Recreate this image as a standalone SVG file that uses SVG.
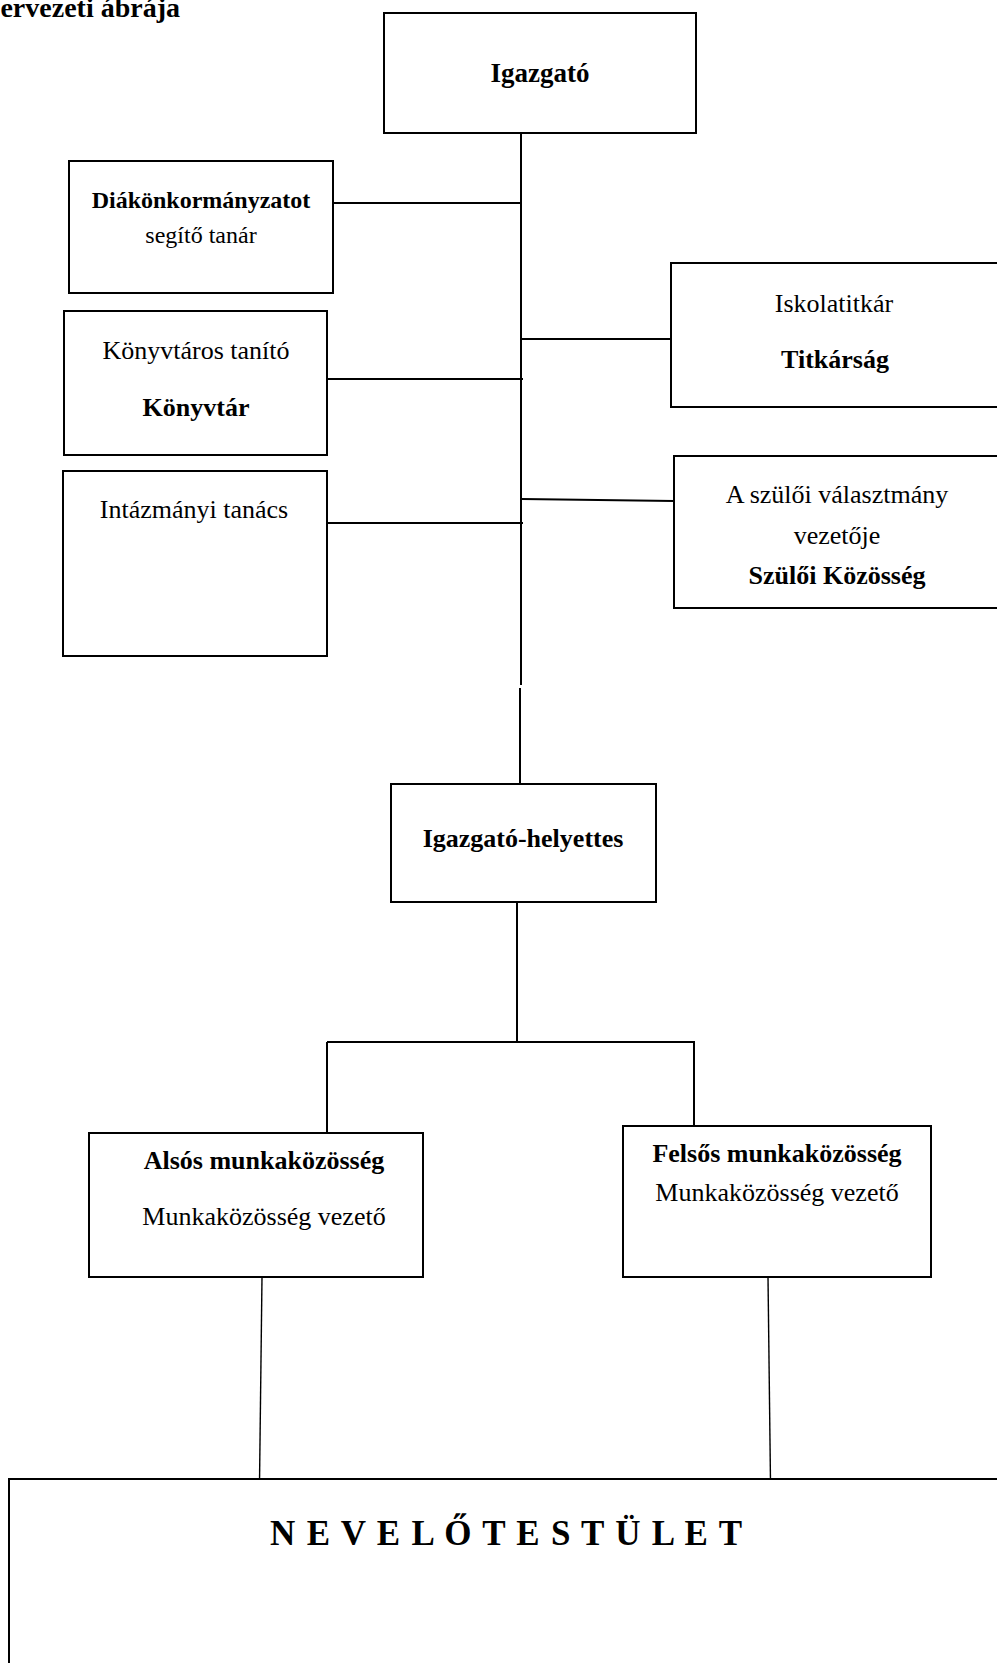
<svg xmlns="http://www.w3.org/2000/svg" width="997" height="1663" viewBox="0 0 997 1663">
<style>
.box{fill:#fff;stroke:#000;stroke-width:2}
.ln{stroke:#000;stroke-width:2;fill:none}
.thin{stroke:#000;stroke-width:1.4;fill:none}
text{font-family:"Liberation Serif","Times New Roman",serif;fill:#000;text-anchor:middle}
.b{font-weight:bold}
.r{font-size:26px}
.bb{font-size:26px;font-weight:bold}
</style>
<rect x="0" y="0" width="997" height="1663" fill="#fff"/>
<text x="180" y="17" class="b" style="font-size:28px;text-anchor:end">ervezeti ábrája</text>
<g id="connectors">
<line class="ln" x1="521" y1="133" x2="521" y2="685"/>
<line class="ln" x1="520" y1="688" x2="520" y2="784"/>
<line class="ln" x1="333" y1="203" x2="521" y2="203"/>
<line class="ln" x1="521" y1="339" x2="671" y2="339"/>
<line class="ln" x1="327" y1="379" x2="523" y2="379"/>
<line class="ln" x1="522" y1="499" x2="674" y2="501"/>
<line class="ln" x1="327" y1="523" x2="523" y2="523"/>
<line class="ln" x1="517" y1="902" x2="517" y2="1042"/>
<line class="ln" x1="327" y1="1042" x2="695" y2="1042"/>
<line class="ln" x1="327" y1="1042" x2="327" y2="1133"/>
<line class="ln" x1="694" y1="1042" x2="694" y2="1126"/>
<line class="thin" x1="262" y1="1277" x2="259.5" y2="1483"/>
<line class="thin" x1="768" y1="1277" x2="770.5" y2="1483"/>
</g>
<g id="igazgato">
<rect class="box" x="384" y="13" width="312" height="120"/>
<text x="540" y="82" class="b" style="font-size:27px">Igazgató</text>
</g>
<g id="diakonkormanyzat">
<rect class="box" x="69" y="161" width="264" height="132"/>
<text x="201" y="208" class="b" style="font-size:24px">Diákönkormányzatot</text>
<text x="201" y="243" style="font-size:24px">segítő tanár</text>
</g>
<g id="konyvtar">
<rect class="box" x="64" y="311" width="263" height="144"/>
<text x="196" y="359" class="r">Könyvtáros tanító</text>
<text x="196" y="416" class="bb">Könyvtár</text>
</g>
<g id="intezmenyi">
<rect class="box" x="63" y="471" width="264" height="185"/>
<text x="194" y="518" class="r">Intázmányi tanács</text>
</g>
<g id="titkarsag">
<rect class="box" x="671" y="263" width="340" height="144"/>
<text x="834" y="312" class="r">Iskolatitkár</text>
<text x="835" y="368" class="bb">Titkárság</text>
</g>
<g id="szuloi">
<rect class="box" x="674" y="456" width="340" height="152"/>
<text x="837" y="503" class="r">A szülői választmány</text>
<text x="837" y="544" class="r">vezetője</text>
<text x="837" y="584" class="bb">Szülői Közösség</text>
</g>
<g id="igazgato-helyettes">
<rect class="box" x="391" y="784" width="265" height="118"/>
<text x="523" y="847" class="bb">Igazgató-helyettes</text>
</g>
<g id="also">
<rect class="box" x="89" y="1133" width="334" height="144"/>
<text x="264" y="1169" class="bb">Alsós munkaközösség</text>
<text x="264" y="1225" class="r">Munkaközösség vezető</text>
</g>
<g id="felso">
<rect class="box" x="623" y="1126" width="308" height="151"/>
<text x="777" y="1162" class="bb">Felsős munkaközösség</text>
<text x="777" y="1201" class="r">Munkaközösség vezető</text>
</g>
<g id="nevelotestulet">
<rect class="box" x="9" y="1479" width="1010" height="210"/>
<text x="270" y="1545" class="b" style="font-size:35px;text-anchor:start" textLength="472" lengthAdjust="spacing">N E V E L Ő T E S T Ü L E T</text>
</g>
</svg>
